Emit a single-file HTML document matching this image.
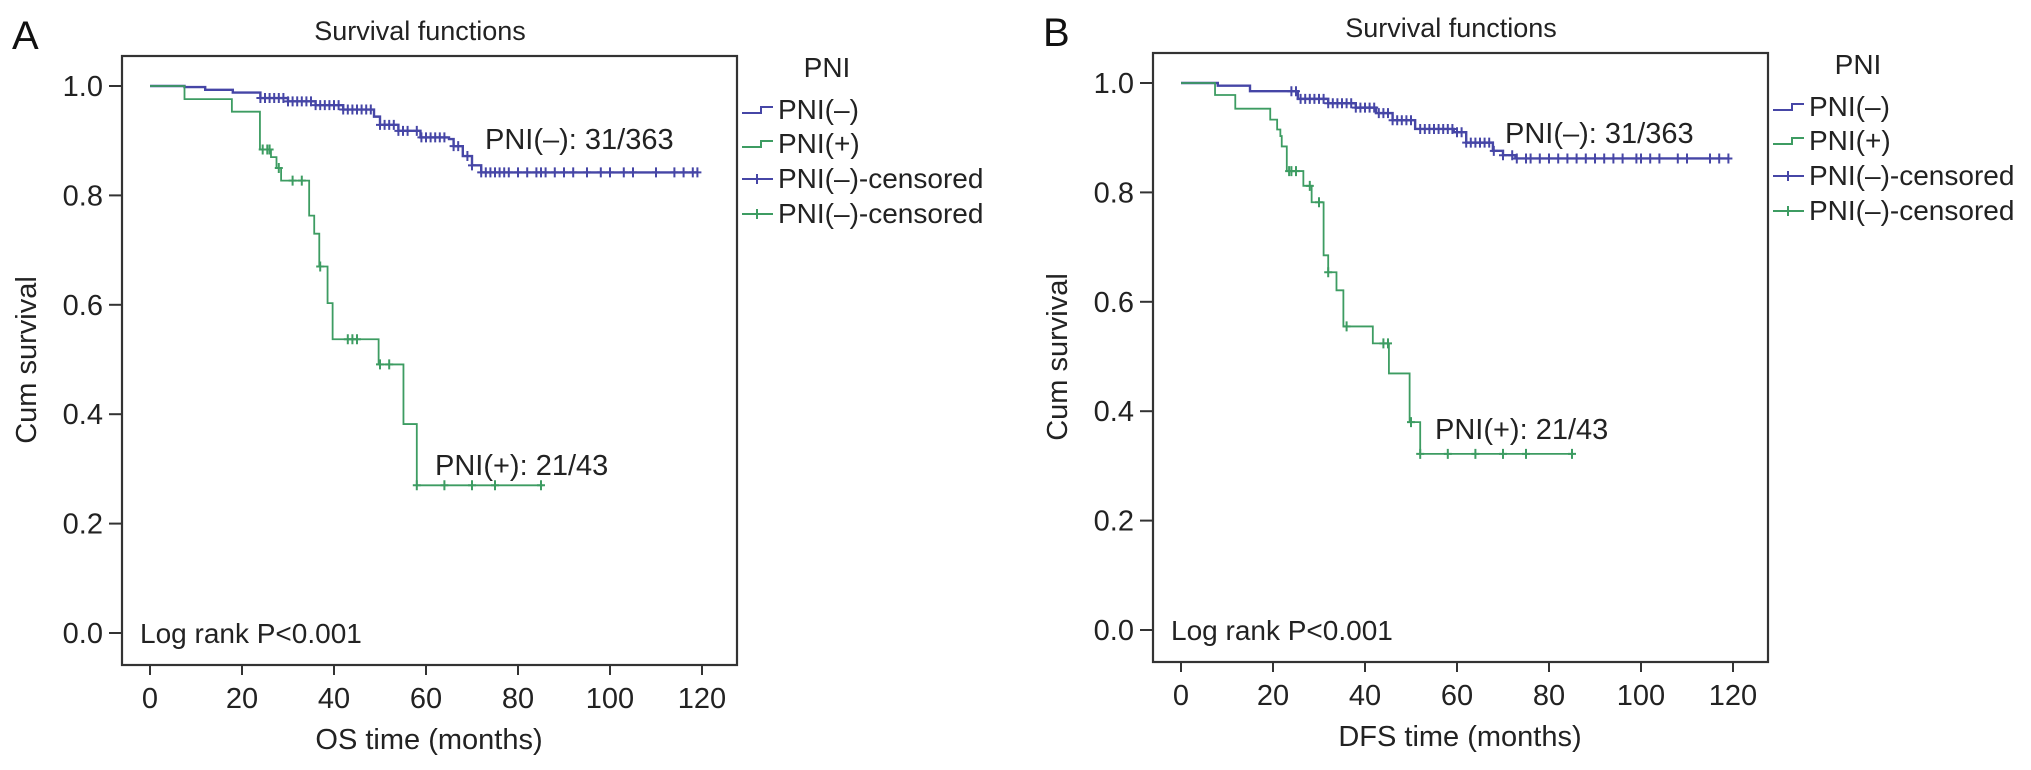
<!DOCTYPE html>
<html><head><meta charset="utf-8"><style>
html,body{margin:0;padding:0;background:#fff;}
svg{display:block;font-family:"Liberation Sans",Arial,sans-serif;}
</style></head><body>
<svg id="fig" width="2031" height="770" viewBox="0 0 2031 770" xmlns="http://www.w3.org/2000/svg"></svg>
<script>
// ---- Panel A (OS) data ----
const xTicks = [0,20,40,60,80,100,120];
const yTicks = [0.0,0.2,0.4,0.6,0.8,1.0];
const yTickLabels = ["0.0","0.2","0.4","0.6","0.8","1.0"];
const aNegTimes = [0,7.5,12,18,24,30,36,42,48.7,50,54,58.8,65,66,68,70,72,119];
const aNegSurv  = [1.0,0.998,0.993,0.988,0.978,0.972,0.965,0.957,0.944,0.929,0.918,0.906,0.903,0.89,0.872,0.855,0.842,0.842];
const aNegCens = [24,25,26,27,28,29,30,31,32,33,34,35,36,37,38,39,40,41,42,43,44,45,46,47,48,50,51,52,53,54,55,56,58,59,60,61,62,63,64,66,67,69,70,72,73,74,75,76,77,78,80,82,84,85,86,88,90,92,95,98,100,103,105,110,114,116,118,119];
const aPosTimes = [0,7.5,17.8,23.9,26.3,27.5,28.5,34.6,35.7,36.8,38.6,39.7,49.7,55.1,58,85.5];
const aPosSurv  = [1.0,0.976,0.953,0.884,0.87,0.85,0.827,0.763,0.73,0.67,0.603,0.537,0.491,0.382,0.27,0.27];
const aPosCens = [24.5,25.5,26,28,31,33,37,43,44,45,50,52,58,64,70,75,85];
// ---- Panel B (DFS) data ----
const bNegTimes = [0,8,15,25.4,32,38,42.4,46,50.9,59.3,62,67.8,70,72.7,119];
const bNegSurv  = [1.0,0.995,0.985,0.971,0.963,0.955,0.945,0.932,0.916,0.91,0.891,0.876,0.868,0.862,0.862];
const bNegCens = [24,25,26,27,28,29,30,31,32,33,34,35,36,37,38,39,40,41,42,43,44,45,46,47,48,49,50,52,53,54,55,56,57,58,59,60,61,62,63,64,65,66,67,68,70,72,73,75,76,78,80,82,84,86,88,90,92,94,96,99,100,102,104,108,110,115,117,119];
const bPosTimes = [0,7.4,11.8,19.4,20.9,21.6,21.9,23,26.6,28.4,31,32,33.8,35.3,41.7,45.2,49.7,52,85.4];
const bPosSurv  = [1.0,0.978,0.953,0.933,0.915,0.903,0.884,0.839,0.812,0.782,0.685,0.654,0.621,0.555,0.524,0.469,0.38,0.322,0.322];
const bPosCens = [23.5,24,25,28,30,32,36,44,45,50,52,58,64,70,75,85];

const NS="http://www.w3.org/2000/svg";
const svg=document.getElementById('fig');
const BLUE="#4646a6", GREEN="#3d9c62";
function mk(tag,attrs,parent){const e=document.createElementNS(NS,tag);for(const k in attrs)e.setAttribute(k,attrs[k]);(parent||svg).appendChild(e);return e;}
function txt(str,attrs,parent){const e=mk('text',attrs,parent);e.textContent=str;return e;}

function panel(cfg){
  const g=mk('g',{transform:`translate(${cfg.dx},${cfg.dy})`});
  
  
  const X=m=>150+4.6*m, Y=s=>633-547*s;
  const box=mk('rect',{x:122,y:56,width:615,height:609,fill:'none',stroke:'#333','stroke-width':2.2},g);
  
  
  const lt=txt(cfg.letter,{x:12,y:49,'font-size':40,fill:'#111'},g);
  
  
  const tt=txt('Survival functions',{x:420,y:40,'font-size':27,'text-anchor':'middle',fill:'#222'},g);
  
  
  yTicks.forEach((v,i)=>{
    const t=mk('line',{x1:109,x2:122,y1:Y(v),y2:Y(v),stroke:'#333','stroke-width':2},g);
    
    
    const l=txt(yTickLabels[i],{x:103,y:Y(v)+10,'font-size':29,'text-anchor':'end',fill:'#222'},g);
    
    
  });
  xTicks.forEach(v=>{
    const t=mk('line',{x1:X(v),x2:X(v),y1:665,y2:675,stroke:'#333','stroke-width':2},g);
    
    
    const l=txt(String(v),{x:X(v),y:708,'font-size':29,'text-anchor':'middle',fill:'#222'},g);
    
    
  });
  const xt=txt(cfg.xTitle,{x:429,y:749,'font-size':29,'text-anchor':'middle',fill:'#222'},g);
  
  
  const yt=txt('Cum survival',{x:0,y:0,'font-size':29,'text-anchor':'middle',fill:'#222',transform:'translate(36,360) rotate(-90)'},g);
  
  
  function step(times,surv,color,name,w){
    let d=`M${X(times[0])},${Y(surv[0])}`;
    for(let i=1;i<times.length;i++){d+=` H${X(times[i])} V${Y(surv[i])}`;}
    const p=mk('path',{d:d,fill:'none',stroke:color,'stroke-width':w},g);
    
    
  }
  function survAt(times,surv,t){let s=surv[0];for(let i=0;i<times.length;i++){if(times[i]<=t)s=surv[i];}return s;}
  function cens(arr,times,surv,color,name){
    arr.forEach(t=>{
      const cx=X(t),cy=Y(survAt(times,surv,t));
      const c=mk('path',{d:`M${cx-4},${cy} H${cx+4} M${cx},${cy-5} V${cy+5}`,stroke:color,'stroke-width':2,fill:'none'},g);
      
      
    });
  }
  step(cfg.negT,cfg.negS,BLUE,'pni-negative-curve',2.4);
  step(cfg.posT,cfg.posS,GREEN,'pni-positive-curve',1.8);
  cens(cfg.negC,cfg.negT,cfg.negS,BLUE,'pni-negative-censor-mark');
  cens(cfg.posC,cfg.posT,cfg.posS,GREEN,'pni-positive-censor-mark');
  const a1=txt('PNI(\u2013): 31/363',{x:cfg.negLab[0],y:cfg.negLab[1],'font-size':29,fill:'#222'},g);
  
  
  const a2=txt('PNI(+): 21/43',{x:cfg.posLab[0],y:cfg.posLab[1],'font-size':29,fill:'#222'},g);
  
  
  const lr=txt('Log rank P<0.001',{x:140,y:643,'font-size':28,fill:'#222'},g);
  
  
  // legend
  const lg=mk('g',{},g);
  
  
  const lh=txt('PNI',{x:827,y:77,'font-size':28,'text-anchor':'middle',fill:'#222'},lg);
  
  
  const entries=[['PNI(\u2013)',BLUE,'step'],['PNI(+)',GREEN,'step'],['PNI(\u2013)-censored',BLUE,'cens'],['PNI(\u2013)-censored',GREEN,'cens']];
  const bl=[119,153,188,223];
  entries.forEach((e,i)=>{
    const eg=mk('g',{},lg);
    
    
    const cy=bl[i]-9;
    const d=e[2]==='step'?`M742,${cy+3} H761 V${cy-3} H773`:`M742,${cy} H773 M757,${cy-5} V${cy+5}`;
    mk('path',{d:d,stroke:e[1],'stroke-width':2,fill:'none'},eg);
    txt(e[0],{x:778,y:bl[i],'font-size':28,fill:'#222'},eg);
  });
}
panel({dx:0,dy:0,name:'panel-a-os',letter:'A',xTitle:'OS time (months)',
  negT:aNegTimes,negS:aNegSurv,negC:aNegCens,posT:aPosTimes,posS:aPosSurv,posC:aPosCens,
  negLab:[485,149],posLab:[435,475]});
panel({dx:1031,dy:-3,name:'panel-b-dfs',letter:'B',xTitle:'DFS time (months)',
  negT:bNegTimes,negS:bNegSurv,negC:bNegCens,posT:bPosTimes,posS:bPosSurv,posC:bPosCens,
  negLab:[474,146],posLab:[404,442]});
</script>
</body></html>
